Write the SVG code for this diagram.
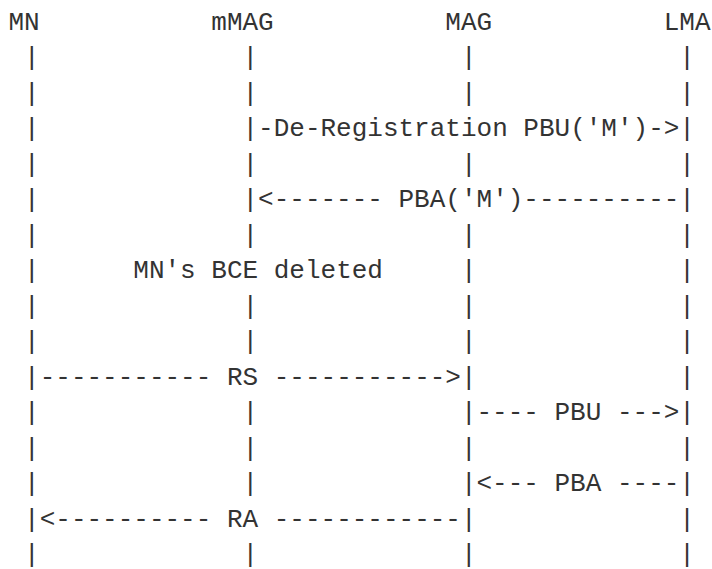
<svg xmlns="http://www.w3.org/2000/svg" width="712" height="569" viewBox="0 0 712 569">
  <style>
    text { font-family: "Liberation Mono", "DejaVu Sans Mono", monospace; font-size: 26px; fill: #333; white-space: pre; }
  </style>
  <rect width="712" height="569" fill="#fff"/>

  <!-- participants: header label plus lifeline bars (column pitch 15.6px) -->
  <g id="mn">
    <text x="8.5" y="29.5">MN</text>
    <text class="lifeline">
      <tspan x="24.1" y="65">|</tspan><tspan x="24.1" y="100.5">|</tspan><tspan x="24.1" y="136">|</tspan>
      <tspan x="24.1" y="171.5">|</tspan><tspan x="24.1" y="207">|</tspan><tspan x="24.1" y="242.5">|</tspan>
      <tspan x="24.1" y="278">|</tspan><tspan x="24.1" y="313.5">|</tspan><tspan x="24.1" y="349">|</tspan>
      <tspan x="24.1" y="384.5">|</tspan><tspan x="24.1" y="420">|</tspan><tspan x="24.1" y="455.5">|</tspan>
      <tspan x="24.1" y="491">|</tspan><tspan x="24.1" y="526.5">|</tspan><tspan x="24.1" y="562">|</tspan>
    </text>
  </g>

  <g id="mmag">
    <text x="211.3" y="29.5">mMAG</text>
    <text class="lifeline">
      <tspan x="242.5" y="65">|</tspan><tspan x="242.5" y="100.5">|</tspan><tspan x="242.5" y="136">|</tspan>
      <tspan x="242.5" y="171.5">|</tspan><tspan x="242.5" y="207">|</tspan><tspan x="242.5" y="242.5">|</tspan>
      <tspan x="242.5" y="313.5">|</tspan><tspan x="242.5" y="349">|</tspan>
      <tspan x="242.5" y="420">|</tspan><tspan x="242.5" y="455.5">|</tspan>
      <tspan x="242.5" y="491">|</tspan><tspan x="242.5" y="562">|</tspan>
    </text>
    <text x="133.3" y="278">MN's BCE deleted</text>
  </g>

  <g id="mag">
    <text x="445.3" y="29.5">MAG</text>
    <text class="lifeline">
      <tspan x="460.9" y="65">|</tspan><tspan x="460.9" y="100.5">|</tspan>
      <tspan x="460.9" y="171.5">|</tspan><tspan x="460.9" y="242.5">|</tspan>
      <tspan x="460.9" y="278">|</tspan><tspan x="460.9" y="313.5">|</tspan><tspan x="460.9" y="349">|</tspan>
      <tspan x="460.9" y="384.5">|</tspan><tspan x="460.9" y="420">|</tspan><tspan x="460.9" y="455.5">|</tspan>
      <tspan x="460.9" y="491">|</tspan><tspan x="460.9" y="526.5">|</tspan><tspan x="460.9" y="562">|</tspan>
    </text>
  </g>

  <g id="lma">
    <text x="663.7" y="29.5">LMA</text>
    <text class="lifeline">
      <tspan x="679.3" y="65">|</tspan><tspan x="679.3" y="100.5">|</tspan><tspan x="679.3" y="136">|</tspan>
      <tspan x="679.3" y="171.5">|</tspan><tspan x="679.3" y="207">|</tspan><tspan x="679.3" y="242.5">|</tspan>
      <tspan x="679.3" y="278">|</tspan><tspan x="679.3" y="313.5">|</tspan><tspan x="679.3" y="349">|</tspan>
      <tspan x="679.3" y="384.5">|</tspan><tspan x="679.3" y="420">|</tspan><tspan x="679.3" y="455.5">|</tspan>
      <tspan x="679.3" y="491">|</tspan><tspan x="679.3" y="526.5">|</tspan><tspan x="679.3" y="562">|</tspan>
    </text>
  </g>

  <!-- messages between lifelines -->
  <g id="connectors">
    <text x="258.1" y="136">-De-Registration PBU('M')-&gt;</text>
    <text x="258.1" y="207">&lt;------- PBA('M')----------</text>
    <text x="39.7" y="384.5">----------- RS -----------&gt;</text>
    <text x="476.5" y="420">---- PBU ---&gt;</text>
    <text x="476.5" y="491">&lt;--- PBA ----</text>
    <text x="39.7" y="526.5">&lt;---------- RA ------------</text>
  </g>
</svg>
